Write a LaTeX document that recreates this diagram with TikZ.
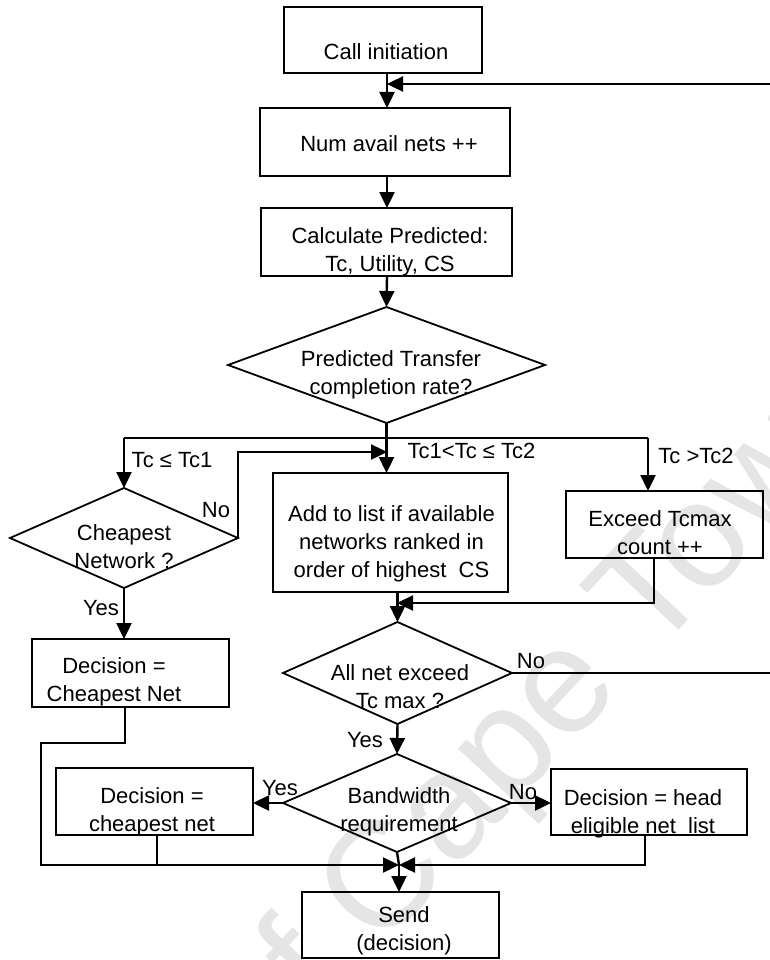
\documentclass[tikz,border=0pt]{standalone}
\usepackage{fontspec}
\setmainfont{Liberation Sans}
\usetikzlibrary{arrows.meta,shapes.geometric,calc}
\tikzset{
  boxnode/.style={draw, line width=1.8pt, inner sep=0pt, outer sep=0pt},
  dianode/.style={draw, diamond, line width=1.8pt, inner sep=0pt, outer sep=0pt},
  txt/.style={font=\fontsize{22}{28}\selectfont, align=center, inner sep=0pt, anchor=base},
  lbl/.style={font=\fontsize{22}{28}\selectfont, inner sep=0pt, anchor=base},
  conn/.style={line width=2.4pt},
  arr/.style={conn, -{Triangle[length=16pt,width=15pt]}},
}
\begin{document}
\begin{tikzpicture}[x=1pt,y=-1pt]
\useasboundingbox (0,0) rectangle (770,960);
\fill[white] (0,0) rectangle (770,960);
% watermark
\node[font=\fontsize{150}{150}\selectfont, text=black!10, rotate=47, anchor=base west, inner sep=0pt] (wm) at (-212,1585) {University of Cape Town};

% boxes and decisions
\node[boxnode, minimum width=198pt, minimum height=66pt] (call) at (383,40) {};
\node[boxnode, minimum width=250pt, minimum height=68pt] (numav) at (385,142) {};
\node[boxnode, minimum width=251pt, minimum height=68pt] (calc) at (386.5,242) {};
\node[dianode, minimum width=317pt, minimum height=116pt] (pred) at (386.5,365) {};
\node[boxnode, minimum width=235pt, minimum height=119pt] (add) at (390.5,532.5) {};
\node[boxnode, minimum width=197pt, minimum height=67pt] (exceed) at (664.5,524.5) {};
\node[dianode, minimum width=228pt, minimum height=100pt] (cheap) at (124,538) {};
\node[boxnode, minimum width=197pt, minimum height=68pt] (dec1) at (130.5,673) {};
\node[dianode, minimum width=229pt, minimum height=102pt] (allnet) at (397.5,673) {};
\node[dianode, minimum width=228pt, minimum height=98pt] (band) at (397,803) {};
\node[boxnode, minimum width=197pt, minimum height=67pt] (dec2) at (154.5,801.5) {};
\node[boxnode, minimum width=196pt, minimum height=66pt] (dec3) at (649,802) {};
\node[boxnode, minimum width=197pt, minimum height=66pt] (send) at (400.5,925) {};

% texts (anchor = baseline of the last line)
\node[txt] (tcall) at (386,60) {Call initiation};
\node[txt] (tnumav) at (389,152) {Num avail nets ++};
\node[txt] (tcalc) at (390,271) {Calculate Predicted:\\Tc, Utility, CS};
\node[txt] (tpred) at (391,394) {Predicted Transfer\\completion rate?};
\node[txt] (tadd) at (391.5,577) {Add to list if available\\networks ranked in\\order of highest~~CS};
\node[txt] (texceed) at (660,554) {Exceed Tcmax\\count ++};
\node[txt] (tcheap) at (124,568) {Cheapest\\Network ?};
\node[txt] (tdec1) at (114,701) {Decision =\\Cheapest Net};
\node[txt] (tallnet) at (400,708) {All net exceed\\Tc max ?};
\node[txt] (tband) at (399,831) {Bandwidth\\requirement};
\node[txt] (tdec2) at (152,831) {Decision =\\cheapest net};
\node[txt] (tdec3) at (643,833) {Decision = head\\eligible net~~list};
\node[txt] (tsend) at (404,950) {Send\\(decision)};

% labels
\node[lbl] (l1) at (172,467) {Tc ≤ Tc1};
\node[lbl] (l2) at (216,517) {No};
\node[lbl] (l3) at (101,615) {Yes};
\node[lbl] (l4) at (471.5,458) {Tc1<Tc ≤ Tc2};
\node[lbl] (l5) at (696,463) {Tc >Tc2};
\node[lbl] (l6) at (531,668) {No};
\node[lbl] (l7) at (365,747) {Yes};
\node[lbl] (l8) at (280,795) {Yes};
\node[lbl] (l9) at (523,799) {No};

% connector points
\coordinate (axis) at (387,84);
\coordinate (brL) at (124,438);
\coordinate (brR) at (648,438);
\coordinate (noj) at (387,452);
\coordinate (rt) at (778,84);
\coordinate (rb) at (778,673);
\coordinate (mergeA) at (397,603);
\coordinate (merge) at (399,865);
\coordinate (d1a) at (125,743);
\coordinate (d1b) at (41,743);
\coordinate (d1c) at (41,865);
\coordinate (d2) at (157,865);
\coordinate (exc) at (654,603);
\coordinate (d3) at (645,865);

% connectors
\draw[arr] (call.south -| axis) -- (numav.north -| axis);
\draw[arr] (allnet.east) -- (rb) -- (rt) -- (axis);
\draw[arr] (numav.south -| axis) -- (calc.north -| axis);
\draw[arr] (calc.south -| axis) -- (pred.north);
\draw[arr] (pred.south) -- (add.north -| pred.south);
\draw[conn] (brL) -- (brR);
\draw[arr] (brL) -- (cheap.north);
\draw[arr] (brR) -- (brR |- exceed.north);
\draw[arr] (cheap.east) |- (noj);
\draw[arr] (cheap.south) -- (cheap.south |- dec1.north);
\draw[arr] (dec1.south -| d1a) -- (d1a) -- (d1b) -- (d1c) -- (merge);
\draw[conn] (dec2.south -| d2) -- (d2);
\draw[arr] (add.south -| allnet.north) -- (allnet.north);
\draw[arr] (exceed.south -| exc) -- (exc) -- (mergeA);
\draw[arr] (allnet.south) -- (band.north);
\draw[arr] (band.west) -- (dec2.east |- band.west);
\draw[arr] (band.east) -- (dec3.west |- band.east);
\draw[arr] (dec3.south -| d3) -- (d3) -- (merge);
\draw[conn] (band.south) -- (merge);
\draw[arr] (merge) -- (merge |- send.north);
\end{tikzpicture}
\end{document}
